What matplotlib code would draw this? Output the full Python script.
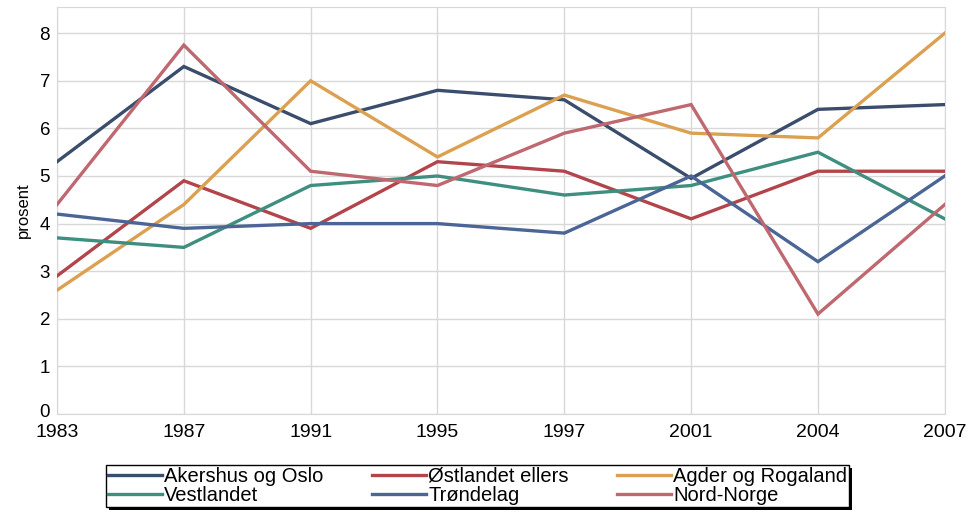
import matplotlib
matplotlib.use("Agg")
import matplotlib.pyplot as plt
import matplotlib.transforms as mtrans
from matplotlib.patches import Rectangle

plt.rcParams['font.family'] = ['Liberation Sans', 'DejaVu Sans']

years = ["1983", "1987", "1991", "1995", "1997", "2001", "2004", "2007"]
akershus = [5.3, 7.3, 6.1, 6.8, 6.6, 4.95, 6.4, 6.5]
ostlandet = [2.9, 4.9, 3.9, 5.3, 5.1, 4.1, 5.1, 5.1]
agder = [2.6, 4.4, 7.0, 5.4, 6.7, 5.9, 5.8, 8.0]
vestlandet = [3.7, 3.5, 4.8, 5.0, 4.6, 4.8, 5.5, 4.1]
trondelag = [4.2, 3.9, 4.0, 4.0, 3.8, 5.0, 3.2, 5.0]
nordnorge = [4.4, 7.75, 5.1, 4.8, 5.9, 6.5, 2.1, 4.4]

names = ["Akershus og Oslo", "Østlandet ellers", "Agder og Rogaland",
         "Vestlandet", "Trøndelag", "Nord-Norge"]
series = [akershus, ostlandet, agder, vestlandet, trondelag, nordnorge]
colors = ["#3b4d6c", "#b3444b", "#dba050", "#3f8f80", "#4b6596", "#bf6870"]

fig = plt.figure(figsize=(9.71, 5.19), dpi=100)
ax = fig.add_axes([0.0587, 0.2023, 0.9143, 0.7842])
x = list(range(len(years)))
handles = []
for vals, c, n in zip(series, colors, names):
    h, = ax.plot(x, vals, color=c, lw=2.4, label=n, solid_joinstyle='miter', zorder=3)
    handles.append(h)

ax.set_xlim(0, len(years) - 1)
ax.set_ylim(0, 8.55)
ax.set_xticks(x)
ax.set_xticklabels(years, fontsize=14)
ax.set_yticks(range(0, 9))
ax.set_yticklabels([str(i) for i in range(9)], fontsize=13.5)
ax.tick_params(axis='x', length=0, pad=7)
ax.tick_params(axis='y', length=0, pad=5)
up = mtrans.ScaledTranslation(0, 4 / 100, fig.dpi_scale_trans)
zero_lbl = ax.get_yticklabels()[0]
zero_lbl.set_transform(zero_lbl.get_transform() + up)
ax.grid(True, color="#d8d8d8", lw=1)
ax.set_axisbelow(True)
for s in ax.spines.values():
    s.set_color("#d8d8d8")
ax.set_ylabel("prosent", fontsize=12, labelpad=6)

# row-major order for a 3-column legend
order = [0, 3, 1, 4, 2, 5]
leg = fig.legend(handles=[handles[i] for i in order], labels=[names[i] for i in order],
                 ncol=3, loc="center",
                 bbox_to_anchor=(0.4918, 0.0636), fontsize=14.5, frameon=True,
                 fancybox=False, shadow=False, handlelength=2.7, handletextpad=0.1,
                 columnspacing=2.4, borderpad=0.1, labelspacing=0.0,
                 borderaxespad=0, edgecolor="black", framealpha=1, facecolor="white")
leg.get_frame().set_linewidth(1.0)
fig.canvas.draw()
bb = leg.get_window_extent().transformed(fig.transFigure.inverted())
sh = Rectangle((bb.x0 + 3 / 971, bb.y0 - 3 / 519), bb.width, bb.height,
               transform=fig.transFigure, facecolor="black", edgecolor="none", zorder=0)
fig.patches.append(sh)

fig.savefig("out.png", dpi=100)
